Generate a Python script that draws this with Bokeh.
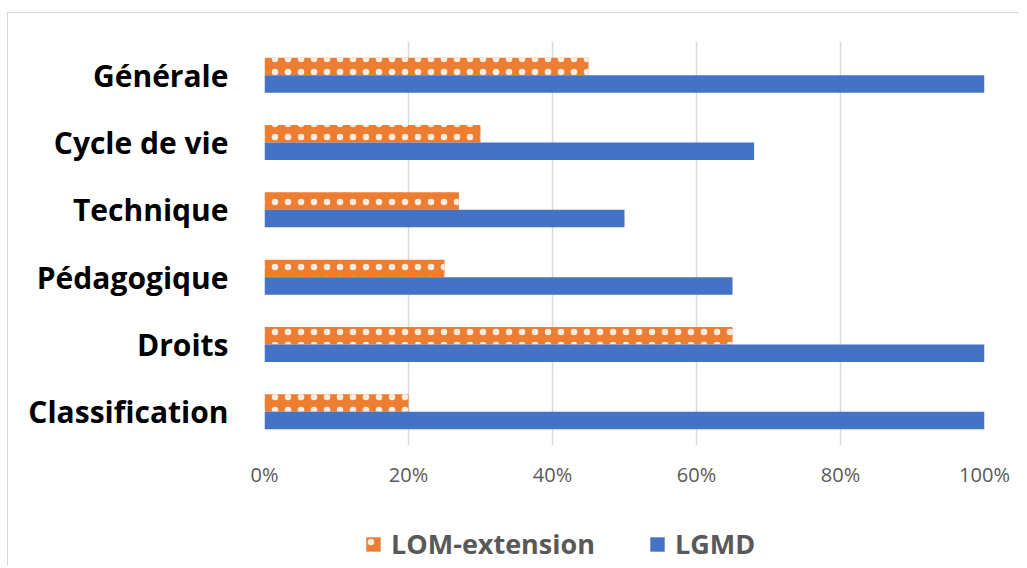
from bokeh.plotting import figure
from bokeh.models import (ColumnDataSource, FactorRange, Range1d, FixedTicker,
                          NumeralTickFormatter, Legend, LegendItem)
from bokeh.transform import dodge
from bokeh.layouts import column
from bokeh.embed import file_html
from bokeh.resources import INLINE

categories = ["Générale", "Cycle de vie", "Technique", "Pédagogique", "Droits", "Classification"]
lom_extension = [0.45, 0.30, 0.27, 0.25, 0.65, 0.20]
lgmd = [1.00, 0.68, 0.50, 0.65, 1.00, 1.00]
x_ticks = [0, 0.2, 0.4, 0.6, 0.8, 1.0]
series_names = ["LOM-extension", "LGMD"]
series_colors = ["#ED7D31", "#4472C4"]

source = ColumnDataSource(data=dict(cat=categories, lom=lom_extension, lgmd=lgmd))

p = figure(width=1011, height=477, output_backend="svg", toolbar_location=None,
           y_range=FactorRange(factors=list(reversed(categories)), range_padding=0),
           x_range=Range1d(0, 1),
           min_border_left=256, min_border_right=35, min_border_top=28, min_border_bottom=45)
p.outline_line_color = None
p.background_fill_color = "white"
p.border_fill_color = "white"

bar_style_lom = dict(fill_color=series_colors[0], line_color=None,
                     hatch_pattern="dot", hatch_color="white", hatch_alpha=0.85,
                     hatch_scale=13, hatch_weight=1)
bar_style_lgmd = dict(fill_color=series_colors[1], line_color=None)

p.hbar(y=dodge("cat", 0.13, range=p.y_range), right="lom", left=0, height=0.26,
       source=source, **bar_style_lom)
p.hbar(y=dodge("cat", -0.13, range=p.y_range), right="lgmd", left=0, height=0.26,
       source=source, **bar_style_lgmd)

# x axis
p.xaxis.ticker = FixedTicker(ticks=x_ticks)
p.xaxis.formatter = NumeralTickFormatter(format="0%")
p.xaxis.axis_line_color = None
p.xaxis.major_tick_line_color = None
p.xaxis.minor_tick_line_color = None
p.xaxis.major_tick_out = 0
p.xaxis.major_label_standoff = 15
p.xaxis.major_label_text_font = "Open Sans"
p.xaxis.major_label_text_font_size = "20px"
p.xaxis.major_label_text_color = "#595959"

# y axis
p.yaxis.axis_line_color = None
p.yaxis.major_tick_line_color = None
p.yaxis.minor_tick_line_color = None
p.yaxis.major_tick_out = 0
p.yaxis.major_label_standoff = 36
p.yaxis.major_label_text_font = "Open Sans"
p.yaxis.major_label_text_font_style = "bold"
p.yaxis.major_label_text_font_size = "30px"
p.yaxis.major_label_text_color = "black"

p.xgrid.grid_line_color = "#D9D9D9"
p.xgrid.grid_line_width = 1.5
p.ygrid.grid_line_color = None

# legend strip below the chart (its renderers are hidden; only the legend shows)
lf = figure(width=1011, height=76, output_backend="svg", toolbar_location=None,
            x_axis_type=None, y_axis_type=None,
            y_range=FactorRange(factors=list(reversed(categories)), range_padding=0),
            x_range=Range1d(0, 1),
            min_border_left=0, min_border_right=0, min_border_top=0, min_border_bottom=0)
lf.outline_line_color = None
lf.grid.visible = False
l_lom = lf.hbar(y="cat", right="lom", left=0, height=0.26, source=source,
                visible=False, **bar_style_lom)
l_lgmd = lf.hbar(y="cat", right="lgmd", left=0, height=0.26, source=source,
                 visible=False, **bar_style_lgmd)

legend = Legend(items=[LegendItem(label=series_names[0], renderers=[l_lom]),
                       LegendItem(label=series_names[1], renderers=[l_lgmd])],
                orientation="horizontal", location=(100, 4),
                glyph_width=18, glyph_height=18, label_standoff=9, spacing=53,
                padding=0, margin=0, border_line_color=None, background_fill_alpha=0,
                inactive_fill_alpha=0,
                label_text_font="Open Sans", label_text_font_style="bold",
                label_text_font_size="27px", label_text_color="#595959")
lf.add_layout(legend, "center")

layout = column(p, lf, spacing=0)
layout.styles = {"border-left": "1px solid #D9D9D9", "border-top": "1px solid #D9D9D9",
                 "margin-left": "7px", "margin-top": "12px"}
open("out.html", "w").write(file_html(layout, INLINE))
